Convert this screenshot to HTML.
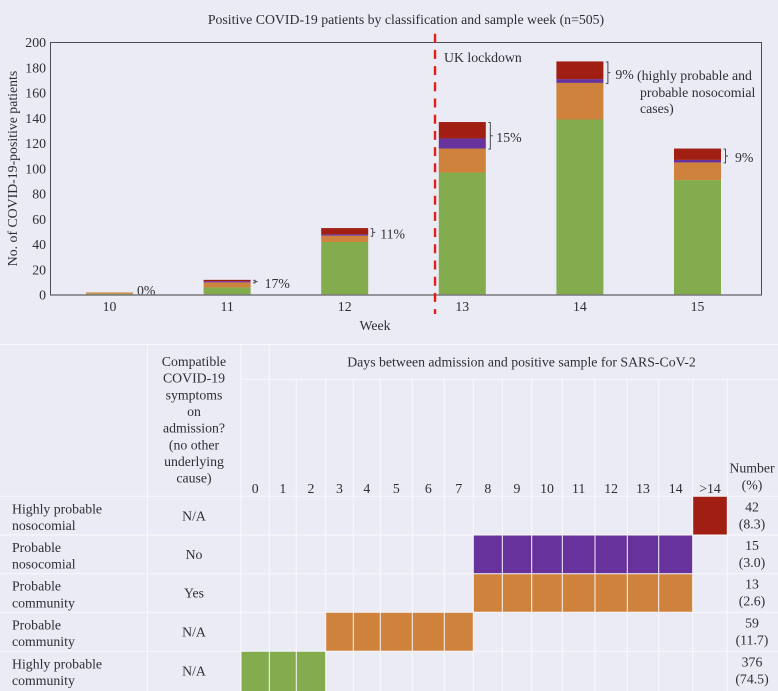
<!DOCTYPE html>
<html lang="en">
<head>
<meta charset="utf-8">
<title>Positive COVID-19 patients by classification and sample week</title>
<style>
html,body{margin:0;padding:0;background:#ebebf5;}
#figure{display:block;width:778px;height:691px;}
text{font-family:"Liberation Serif",serif;font-size:13.8px;fill:#2e2e34;}
</style>
</head>
<body>
<svg id="figure" xmlns="http://www.w3.org/2000/svg" width="778" height="691" viewBox="0 0 778 691"></svg>
<script>
const weeks = ['10', '11', '12', '13', '14', '15'];
const community = [1, 6, 42, 97, 139, 91];
const probableCommunity = [1, 4, 5, 19, 29, 14];
const probableNosocomial = [0, 1, 1, 8, 3, 2];
const highlyNosocomial = [0, 1, 5, 13, 14, 9];
const percentLabels = ['0%', '17%', '11%', '15%', '9%', '9%'];
const yTicks = [0, 20, 40, 60, 80, 100, 120, 140, 160, 180, 200];
const lockdownWeekIndex = 2.768;

const dayLabels = ['0','1','2','3','4','5','6','7','8','9','10','11','12','13','14','>14'];
const rowNamesA = ['Highly probable', 'Probable', 'Probable', 'Probable', 'Highly probable'];
const rowNamesB = ['nosocomial', 'nosocomial', 'community', 'community', 'community'];
const symptomLabels = ['N/A', 'No', 'Yes', 'N/A', 'N/A'];
const rowCounts = ['42', '15', '13', '59', '376'];
const rowPercents = ['(8.3)', '(3.0)', '(2.6)', '(11.7)', '(74.5)'];
const rowFirstDay = [15, 8, 8, 3, 0];
const rowLastDay = [15, 14, 14, 7, 2];

const GREEN = '#82ac4e', ORANGE = '#ce823b', PURPLE = '#67329c', RED = '#a01e12';
const svg = document.getElementById('figure');
const NS = 'http://www.w3.org/2000/svg';

function make(tag, attrs, parent) {
  const el = document.createElementNS(NS, tag);
  for (const k in attrs) el.setAttribute(k, attrs[k]);
  (parent || svg).appendChild(el);
  return el;
}
function label(str, x, y, anchor, parent) {
  const t = make('text', {x: x, y: y, 'text-anchor': anchor || 'middle'}, parent);
  t.textContent = str;
  return t;
}

/* axis functions */
function xCenter(i) { return 109.5 + 117.6 * i; }
function yPos(v) { return 295 - v * 1.2625; }
const BAR_W = 47;

function drawChart() {
  const g = make('g', {});
  
  

  const title = label('Positive COVID-19 patients by classification and sample week (n=505)', 406, 24, 'middle', g);
  
  

  const frame = make('rect', {x: 50.5, y: 42.5, width: 711, height: 252.5, fill: 'none', stroke: '#4c4c56', 'stroke-width': 1}, g);
  
  

  yTicks.forEach(function (v) {
    const t = label(String(v), 46, yPos(v) + 4.5, 'end', g);
    
    
  });

  const yTitle = label('No. of COVID-19-positive patients', 0, 0, 'middle', g);
  yTitle.setAttribute('transform', 'translate(17 168.5) rotate(-90)');
  
  

  const xTitle = label('Week', 375, 330, 'middle', g);
  
  

  const series = [
    {values: community, color: GREEN, name: 'highly-probable-community'},
    {values: probableCommunity, color: ORANGE, name: 'probable-community'},
    {values: probableNosocomial, color: PURPLE, name: 'probable-nosocomial'},
    {values: highlyNosocomial, color: RED, name: 'highly-probable-nosocomial'}
  ];
  const labelGap = [4, 14, 12, 10.5, 12, 14];

  weeks.forEach(function (wk, i) {
    const left = xCenter(i) - BAR_W / 2;
    const right = left + BAR_W;
    let base = 0;
    series.forEach(function (s) {
      const v = s.values[i];
      const r = make('rect', {x: left, y: yPos(base + v), width: BAR_W, height: yPos(base) - yPos(base + v), fill: s.color}, g);
      
      
      base += v;
    });

    const tick = label(wk, xCenter(i), 311, 'middle', g);
    
    

    const noso = probableNosocomial[i] + highlyNosocomial[i];
    const total = base;
    let baseline = yPos(0);
    if (noso > 0) {
      const top = yPos(total) + 0.5;
      const bot = yPos(total - noso) + 0.5;
      const mid = (top + bot) / 2;
      const sx = right + 4.5;
      const br = make('path', {
        d: 'M' + (sx - 2) + ' ' + top + 'H' + sx + 'V' + bot + 'H' + (sx - 2) + 'M' + sx + ' ' + mid + 'H' + (sx + 2.5),
        fill: 'none', stroke: '#3a3a40', 'stroke-width': 0.9
      }, g);
      
      
      baseline = mid + 6.2;
    }
    const pct = label(percentLabels[i], right + labelGap[i], baseline, 'start', g);
    
    
  });

  const axis = make('line', {x1: 50.5, x2: 761.5, y1: 295, y2: 295, stroke: '#77777d', 'stroke-width': 1.5}, g);
  
  

  const lockX = xCenter(lockdownWeekIndex);
  const lock = make('line', {x1: lockX, x2: lockX, y1: 33.7, y2: 314, stroke: '#e0201b', 'stroke-width': 2.4, 'stroke-dasharray': '9 7.2'}, g);
  
  

  const lockText = label('UK lockdown', 444, 62, 'start', g);
  
  

  const n1 = label('(highly probable and', 637, 80, 'start', g);
  
  
  const n2 = label('probable nosocomial', 640, 97, 'start', g);
  
  
  const n3 = label('cases)', 640, 113, 'start', g);
  
  
}

function drawTable() {
  const g = make('g', {});
  
  

  const colEdges = [241, 269.3, 296.3, 325.7, 353.3, 380.3, 412.3, 444.3, 473.3, 502.3, 531.7, 562.3, 595, 627.3, 658.7, 692.7, 727.3];
  const rowEdges = [496.3, 535, 573.7, 612.3, 651.3, 691];
  const rowColors = [RED, PURPLE, ORANGE, ORANGE, GREEN];
  const GRID = '#f8f8fc';

  rowColors.forEach(function (c, r) {
    const x0 = colEdges[rowFirstDay[r]];
    const x1 = colEdges[rowLastDay[r] + 1];
    const cell = make('rect', {x: x0, y: rowEdges[r], width: x1 - x0, height: rowEdges[r + 1] - rowEdges[r], fill: c}, g);
    
    
  });

  const grid = make('g', {stroke: GRID, 'stroke-width': 1}, g);
  
  
  make('line', {x1: 0, x2: 778, y1: 344.5, y2: 344.5}, grid);
  make('line', {x1: 241, x2: 778, y1: 379.3, y2: 379.3}, grid);
  rowEdges.slice(0, 5).forEach(function (y) {
    make('line', {x1: 0, x2: 778, y1: y, y2: y}, grid);
  });
  make('line', {x1: 147.5, x2: 147.5, y1: 344.5, y2: 691}, grid);
  colEdges.forEach(function (x, i) {
    make('line', {x1: x, x2: x, y1: (i < 2 ? 344.5 : 379.3), y2: 691}, grid);
  });

  const header = label('Days between admission and positive sample for SARS-CoV-2', 521.5, 366.6, 'middle', g);
  
  

  const symptomHead = ['Compatible', 'COVID-19', 'symptoms', 'on', 'admission?', '(no other', 'underlying', 'cause)'];
  symptomHead.forEach(function (s, i) {
    const t = label(s, 194, 366 + i * 16.65, 'middle', g);
    
    
  });

  dayLabels.forEach(function (d, i) {
    const t = label(d, (colEdges[i] + colEdges[i + 1]) / 2, 493, 'middle', g);
    
    
  });

  const numHead = label('Number', 752, 472.7, 'middle', g);
  
  
  const pctHead = label('(%)', 752, 489.5, 'middle', g);
  
  

  rowNamesA.forEach(function (nm, r) {
    const top = rowEdges[r];
    const a = label(nm, 12, top + 17, 'start', g);
    
    
    const b = label(rowNamesB[r], 12, top + 33.7, 'start', g);
    
    
    const s = label(symptomLabels[r], 194, top + 24, 'middle', g);
    
    
    const c = label(rowCounts[r], 752, top + 15, 'middle', g);
    
    
    const p = label(rowPercents[r], 752, top + 32, 'middle', g);
    
    
  });
}

drawChart();
drawTable();
</script>
</body>
</html>
